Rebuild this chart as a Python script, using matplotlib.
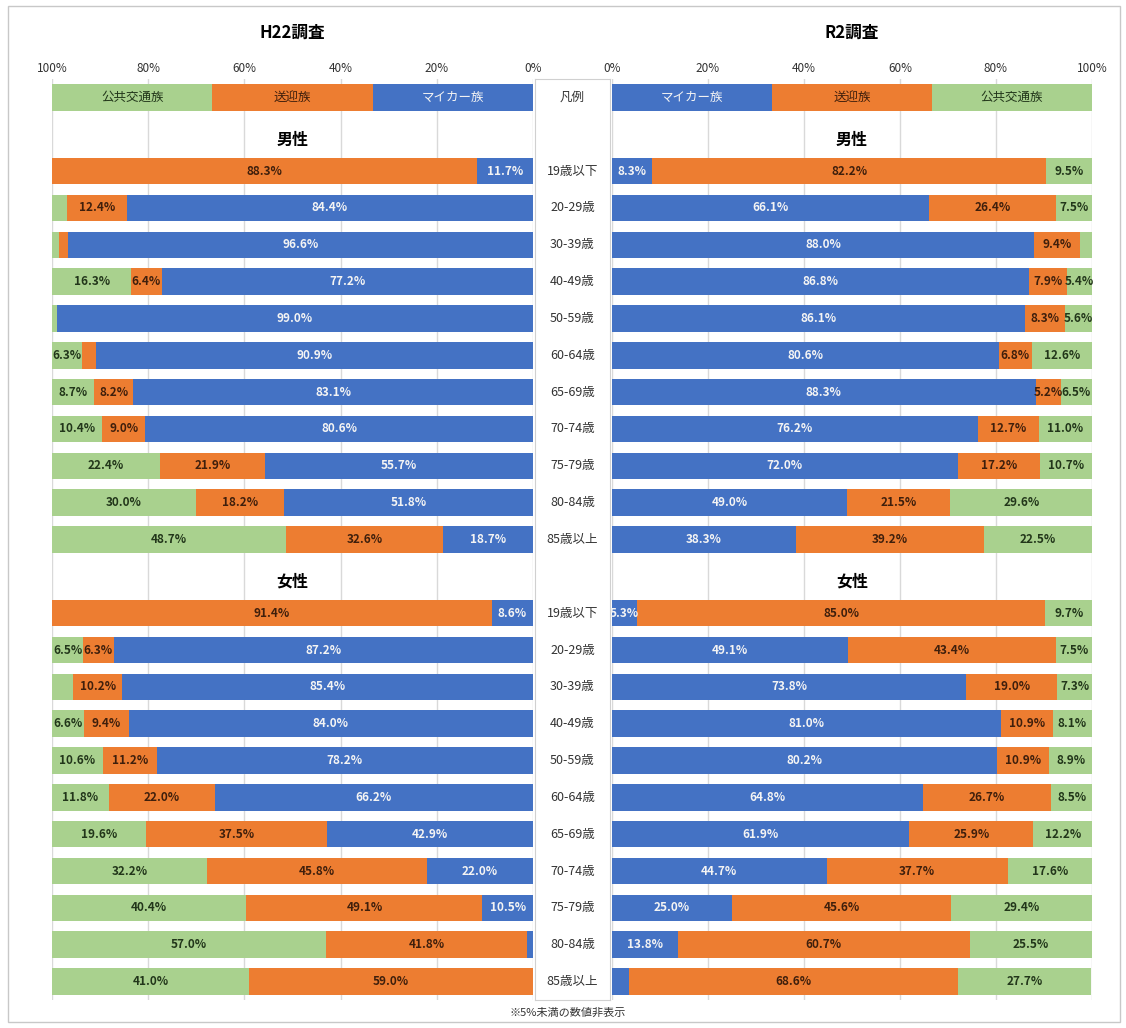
import matplotlib
matplotlib.use("Agg")
import matplotlib.pyplot as plt
from matplotlib.patches import Rectangle

plt.rcParams['font.family'] = ['Noto Sans CJK JP', 'DejaVu Sans']

ages = ['19歳以下', '20-29歳', '30-39歳', '40-49歳', '50-59歳', '60-64歳',
        '65-69歳', '70-74歳', '75-79歳', '80-84歳', '85歳以上']
groups = ['マイカー族', '送迎族', '公共交通族']
legend_share = [100 / 3, 100 / 3, 100 / 3]

# H22 survey (mycar, pickup, public)
h22_male_car = [11.7, 84.4, 96.6, 77.2, 99.0, 90.9, 83.1, 80.6, 55.7, 51.8, 18.7]
h22_male_pick = [88.3, 12.4, 2.0, 6.4, 0.0, 2.8, 8.2, 9.0, 21.9, 18.2, 32.6]
h22_male_pub = [0.0, 3.2, 1.4, 16.3, 1.0, 6.3, 8.7, 10.4, 22.4, 30.0, 48.7]
h22_fem_car = [8.6, 87.2, 85.4, 84.0, 78.2, 66.2, 42.9, 22.0, 10.5, 1.2, 0.0]
h22_fem_pick = [91.4, 6.3, 10.2, 9.4, 11.2, 22.0, 37.5, 45.8, 49.1, 41.8, 59.0]
h22_fem_pub = [0.0, 6.5, 4.4, 6.6, 10.6, 11.8, 19.6, 32.2, 40.4, 57.0, 41.0]

# R2 survey
r2_male_car = [8.3, 66.1, 88.0, 86.8, 86.1, 80.6, 88.3, 76.2, 72.0, 49.0, 38.3]
r2_male_pick = [82.2, 26.4, 9.4, 7.9, 8.3, 6.8, 5.2, 12.7, 17.2, 21.5, 39.2]
r2_male_pub = [9.5, 7.5, 2.6, 5.4, 5.6, 12.6, 6.5, 11.0, 10.7, 29.6, 22.5]
r2_fem_car = [5.3, 49.1, 73.8, 81.0, 80.2, 64.8, 61.9, 44.7, 25.0, 13.8, 3.5]
r2_fem_pick = [85.0, 43.4, 19.0, 10.9, 10.9, 26.7, 25.9, 37.7, 45.6, 60.7, 68.6]
r2_fem_pub = [9.7, 7.5, 7.3, 8.1, 8.9, 8.5, 12.2, 17.6, 29.4, 25.5, 27.7]

colors = ['#4472C4', '#ED7D31', '#A9D18E']
txt_colors = ['#f4f4f4', '#3f1f0c', '#22361a']

W, H = 1126, 1028
fig = plt.figure(figsize=(W / 100, H / 100), dpi=100)
fig.patches.append(Rectangle((8 / W, 6 / H), 1112 / W, 1016 / H, transform=fig.transFigure,
                             fill=False, edgecolor='#c8c8c8', lw=1))

bottom = 1 - 1000 / H
height = (1000 - 79) / H
axL = fig.add_axes([52 / W, bottom, (533 - 52) / W, height])
axR = fig.add_axes([612 / W, bottom, (1092 - 612) / W, height])
axM = fig.add_axes([535 / W, bottom, (610 - 535) / W, height])

n = len(ages)
male_rows = list(range(2, 2 + n))
fem_rows = list(range(3 + n, 3 + 2 * n))
nrows = 3 + 2 * n


def draw_panel(ax, title, male, fem, inverted):
    ax.set_ylim(nrows - 0.5, -0.5)
    if inverted:
        ax.set_xlim(100, 0)
    else:
        ax.set_xlim(0, 100)
    ax.set_xticks([0, 20, 40, 60, 80, 100])
    ax.set_xticklabels(['0%', '20%', '40%', '60%', '80%', '100%'], fontsize=8.5, color='#333333')
    ax.xaxis.tick_top()
    ax.tick_params(axis='x', length=0, pad=3)
    ax.set_yticks([])
    ax.grid(axis='x', color='#d9d9d9', lw=1)
    ax.set_axisbelow(True)
    for s in ax.spines.values():
        s.set_visible(False)
    ax.set_title(title, fontsize=12, fontweight='bold', pad=30)

    # legend row
    left = 0
    for k in range(3):
        ax.barh(0, legend_share[k], left=left, height=0.72, color=colors[k])
        ax.text(left + legend_share[k] / 2, 0, groups[k], ha='center', va='center',
                fontsize=9, color=txt_colors[k])
        left += legend_share[k]

    for rows, series, head in [(male_rows, male, '男性'), (fem_rows, fem, '女性')]:
        ax.text(50, rows[0] - 0.85, head, ha='center', va='center', fontsize=11.5, fontweight='bold')
        lefts = [0.0] * n
        for k, vals in enumerate(series):
            ax.barh(rows, vals, left=lefts, height=0.72, color=colors[k])
            for r, v, l in zip(rows, vals, lefts):
                if v >= 5:
                    ax.text(l + v / 2, r, f'{v:.1f}%', ha='center', va='center',
                            fontsize=8.5, fontweight='bold', color=txt_colors[k])
            lefts = [a + b for a, b in zip(lefts, vals)]


draw_panel(axL, 'H22調査', [h22_male_car, h22_male_pick, h22_male_pub],
           [h22_fem_car, h22_fem_pick, h22_fem_pub], True)
draw_panel(axR, 'R2調査', [r2_male_car, r2_male_pick, r2_male_pub],
           [r2_fem_car, r2_fem_pick, r2_fem_pub], False)

# middle label column
axM.set_ylim(nrows - 0.5, -0.5)
axM.set_xlim(0, 1)
axM.set_xticks([])
axM.set_yticks([])
for s in axM.spines.values():
    s.set_color('#d0d0d0')
axM.text(0.5, 0, '凡例', ha='center', va='center', fontsize=9, color='#333333')
for rows in (male_rows, fem_rows):
    for r, a in zip(rows, ages):
        axM.text(0.5, r, a, ha='center', va='center', fontsize=9, color='#333333')

fig.text(568 / W, 1 - 1013 / H, '※5%未満の数値非表示', ha='center', va='center',
         fontsize=8, color='#333333')

fig.savefig('out.png', dpi=100, facecolor='white')
